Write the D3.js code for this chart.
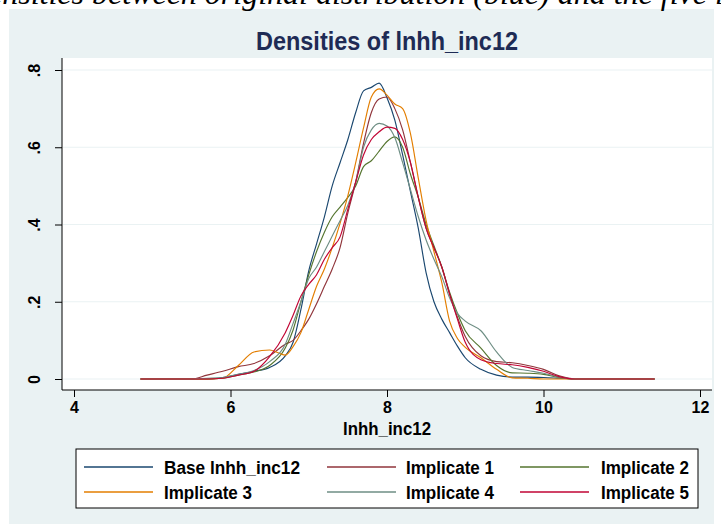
<!DOCTYPE html>
<html>
<head>
<meta charset="utf-8">
<script src="https://cdn.jsdelivr.net/npm/d3@7"></script>
<style>
  html, body { margin: 0; padding: 0; background: #ffffff; }
  svg { display: block; }
</style>
</head>
<body>
<div id="chart"></div>
<script>
// ---------------- DATA ----------------
const chartTitle = "Densities of lnhh_inc12";
const captionText = "densities between original distribution (blue) and the five implicates";
const xAxisTitle = "lnhh_inc12";
const xTicks = [4, 6, 8, 10, 12];
const yTicks = [0, 0.2, 0.4, 0.6, 0.8];
const yTickLabels = ["0", ".2", ".4", ".6", ".8"];

const seriesNames = ["Base lnhh_inc12", "Implicate 1", "Implicate 2", "Implicate 3", "Implicate 4", "Implicate 5"];
const seriesColors = ["#1a476f", "#90353b", "#55752f", "#e37e00", "#6e8e84", "#c10534"];

const xGrid = [4.85, 5.5, 5.7, 5.9, 6.1, 6.3, 6.5, 6.7, 6.8, 6.9, 7.0, 7.1, 7.2, 7.3, 7.4, 7.5, 7.6, 7.7, 7.8, 7.9,
               8.0, 8.1, 8.2, 8.3, 8.4, 8.5, 8.6, 8.7, 8.8, 8.9, 9.0, 9.2, 9.4, 9.6, 9.8, 10.0, 10.2, 10.4, 11.42];

const baseVals = [0, 0, 0, 0.004, 0.012, 0.02, 0.03, 0.06, 0.095, 0.18, 0.28, 0.35, 0.42, 0.50, 0.56, 0.62, 0.69, 0.746, 0.755, 0.766,
                  0.728, 0.67, 0.58, 0.485, 0.39, 0.275, 0.2, 0.155, 0.12, 0.085, 0.055, 0.025, 0.01, 0.005, 0.005, 0.004, 0.002, 0, 0];
const imp1Vals = [0, 0, 0.01, 0.02, 0.032, 0.04, 0.06, 0.09, 0.10, 0.125, 0.155, 0.195, 0.24, 0.285, 0.34, 0.43, 0.51, 0.61, 0.69, 0.725,
                  0.73, 0.70, 0.645, 0.56, 0.47, 0.39, 0.34, 0.29, 0.22, 0.16, 0.11, 0.06, 0.045, 0.042, 0.035, 0.025, 0.008, 0, 0];
const imp2Vals = [0, 0, 0, 0.002, 0.01, 0.018, 0.035, 0.08, 0.127, 0.2, 0.27, 0.33, 0.38, 0.42, 0.445, 0.47, 0.50, 0.55, 0.565, 0.59,
                  0.615, 0.627, 0.60, 0.53, 0.47, 0.40, 0.345, 0.29, 0.225, 0.17, 0.125, 0.08, 0.035, 0.016, 0.015, 0.012, 0.004, 0, 0];
const imp3Vals = [0, 0, 0, 0.002, 0.035, 0.07, 0.075, 0.062, 0.084, 0.12, 0.18, 0.24, 0.285, 0.34, 0.403, 0.475, 0.56, 0.65, 0.73, 0.751,
                  0.735, 0.712, 0.70, 0.635, 0.52, 0.41, 0.33, 0.25, 0.15, 0.105, 0.082, 0.055, 0.025, 0.003, 0.002, 0, 0, 0, 0];
const imp4Vals = [0, 0, 0.002, 0.004, 0.012, 0.022, 0.045, 0.09, 0.144, 0.2, 0.26, 0.29, 0.33, 0.37, 0.41, 0.45, 0.51, 0.60, 0.645, 0.662,
                  0.655, 0.625, 0.56, 0.49, 0.42, 0.36, 0.31, 0.265, 0.21, 0.17, 0.15, 0.125, 0.07, 0.03, 0.022, 0.015, 0.005, 0, 0];
const imp5Vals = [0, 0, 0, 0.002, 0.01, 0.02, 0.058, 0.12, 0.165, 0.215, 0.245, 0.27, 0.31, 0.34, 0.368, 0.44, 0.51, 0.58, 0.62, 0.64,
                  0.652, 0.649, 0.62, 0.56, 0.47, 0.39, 0.34, 0.29, 0.22, 0.155, 0.095, 0.05, 0.04, 0.037, 0.03, 0.02, 0.006, 0, 0];

const seriesValues = [baseVals, imp1Vals, imp2Vals, imp3Vals, imp4Vals, imp5Vals];

// ---------------- LAYOUT ----------------
const W = 721, H = 524;
const panel = { x: 9, y: 9, w: 705, h: 530 };
const plot = { left: 62, right: 712, top: 58, bottom: 390 };
const font = "'Liberation Sans', Arial, Helvetica, sans-serif";

const svg = d3.select("#chart").append("svg").attr("width", W).attr("height", H);

// outer panel
svg.append("rect").attr("x", panel.x).attr("y", panel.y).attr("width", panel.w).attr("height", panel.h)
  .attr("fill", "#eaf2f3");

// caption (partly above the picture's top edge, as in the original screenshot)
svg.append("text").attr("x", -28).attr("y", 4)
  .attr("font-family", "'Liberation Serif', 'Times New Roman', serif")
  .attr("font-style", "italic").attr("font-size", 32).attr("fill", "#000")
  .text(captionText);

// plot region
svg.append("rect").attr("x", plot.left).attr("y", plot.top)
  .attr("width", plot.right - plot.left).attr("height", plot.bottom - plot.top)
  .attr("fill", "#ffffff");

const x = d3.scaleLinear().domain([4, 12]).range([74, 700]);
const y = d3.scaleLinear().domain([0, 0.8]).range([379, 70]);

// gridlines
svg.append("g").selectAll("line").data(yTicks).join("line")
  .attr("x1", plot.left + 1).attr("x2", plot.right)
  .attr("y1", d => y(d)).attr("y2", d => y(d))
  .attr("stroke", "#eaf2f3").attr("stroke-width", 1.2);

// title
svg.append("text").attr("x", (plot.left + plot.right) / 2).attr("y", 50)
  .attr("text-anchor", "middle").attr("font-family", font).attr("font-weight", "bold")
  .attr("font-size", 26).attr("fill", "#1e2b55")
  .attr("textLength", 262).attr("lengthAdjust", "spacingAndGlyphs")
  .text(chartTitle);

// Y axis
const yAxis = d3.axisLeft(y).tickValues(yTicks).tickSize(7).tickPadding(0)
  .tickFormat((d, i) => yTickLabels[i]);
const gy = svg.append("g").attr("transform", `translate(${plot.left},0)`).call(yAxis);
gy.select(".domain").remove();
gy.selectAll(".tick line").attr("stroke", "#000").attr("stroke-width", 1);
gy.selectAll(".tick text")
  .attr("font-family", font).attr("font-weight", "bold").attr("font-size", 16).attr("fill", "#000")
  .attr("text-anchor", "middle").attr("dy", null)
  .attr("x", null).attr("y", null)
  .attr("transform", "translate(-22,0) rotate(-90)");
svg.append("line").attr("x1", plot.left).attr("x2", plot.left)
  .attr("y1", plot.top).attr("y2", plot.bottom).attr("stroke", "#000").attr("stroke-width", 1);

// X axis
const xAxis = d3.axisBottom(x).tickValues(xTicks).tickSize(7).tickPadding(5).tickFormat(d3.format("d"));
const gx = svg.append("g").attr("transform", `translate(0,${plot.bottom})`).call(xAxis);
gx.select(".domain").remove();
gx.selectAll(".tick line").attr("stroke", "#000").attr("stroke-width", 1);
gx.selectAll(".tick text")
  .attr("font-family", font).attr("font-weight", "bold").attr("font-size", 16).attr("fill", "#000");
svg.append("line").attr("x1", plot.left).attr("x2", plot.right)
  .attr("y1", plot.bottom).attr("y2", plot.bottom).attr("stroke", "#000").attr("stroke-width", 1);

// x axis title
svg.append("text").attr("x", (plot.left + plot.right) / 2).attr("y", 435)
  .attr("text-anchor", "middle").attr("font-family", font).attr("font-weight", "bold")
  .attr("font-size", 18).attr("fill", "#000")
  .attr("textLength", 88).attr("lengthAdjust", "spacingAndGlyphs")
  .text(xAxisTitle);

// curves
const line = d3.line().x((d, i) => x(xGrid[i])).y(d => y(d)).curve(d3.curveMonotoneX);
svg.append("g").selectAll("path").data(seriesValues).join("path")
  .attr("d", d => line(d))
  .attr("fill", "none")
  .attr("stroke", (d, i) => seriesColors[i])
  .attr("stroke-width", 1.15)
  .attr("stroke-linejoin", "round");

// legend
const legend = { x: 76, y: 449, w: 622, h: 59 };
svg.append("rect").attr("x", legend.x).attr("y", legend.y).attr("width", legend.w).attr("height", legend.h)
  .attr("fill", "#ffffff").attr("stroke", "#000").attr("stroke-width", 1);
const colX = [84, 327, 520];
const textX = [164, 406, 601];
const rowY = [467, 492];
const textW = [136, 88, 88, 88, 88, 88];
const lg = svg.append("g").selectAll("g").data(seriesNames).join("g");
lg.append("line")
  .attr("x1", (d, i) => colX[i % 3]).attr("x2", (d, i) => colX[i % 3] + 69)
  .attr("y1", (d, i) => rowY[Math.floor(i / 3)]).attr("y2", (d, i) => rowY[Math.floor(i / 3)])
  .attr("stroke", (d, i) => seriesColors[i]).attr("stroke-width", 1.5);
lg.append("text")
  .attr("x", (d, i) => textX[i % 3]).attr("y", (d, i) => rowY[Math.floor(i / 3)] + 6.5)
  .attr("font-family", font).attr("font-weight", "bold").attr("font-size", 18).attr("fill", "#000")
  .attr("textLength", (d, i) => textW[i]).attr("lengthAdjust", "spacingAndGlyphs")
  .text(d => d);
</script>
</body>
</html>
